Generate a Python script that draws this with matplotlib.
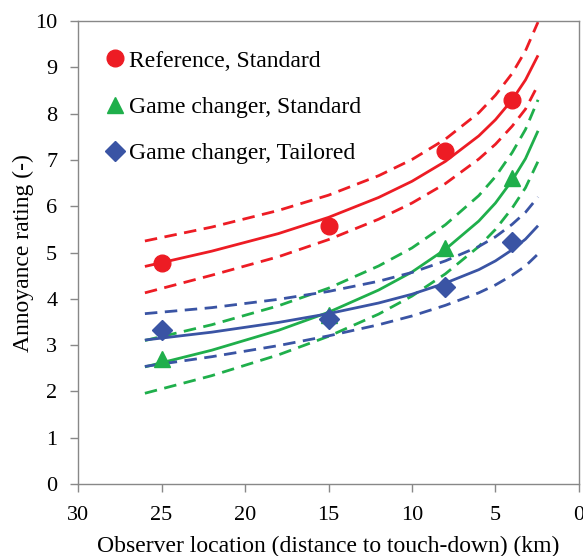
# Annoyance rating vs observer location, with fitted curves and bands
import numpy as np
import matplotlib.pyplot as plt

plt.rcParams['font.family'] = ['Liberation Serif', 'DejaVu Serif']

# measured points (distance in km)
dist_pts = [25, 15, 8, 4]
ref_std = [4.78, 5.57, 7.2, 8.3]
gc_std = [2.7, 3.65, 5.1, 6.62]
gc_tail = [3.32, 3.57, 4.26, 5.22]

# curves
dist_fit = [26, 22, 18, 15, 12, 10, 8, 6, 5, 4, 3.2, 2.45]
ref_fit = [4.70, 5.03, 5.41, 5.76, 6.19, 6.54, 6.97, 7.52, 7.87, 8.30, 8.73, 9.26]
ref_up = [5.25, 5.55, 5.91, 6.24, 6.66, 7.01, 7.45, 8.02, 8.40, 8.87, 9.36, 9.98]
ref_lo = [4.13, 4.51, 4.91, 5.28, 5.72, 6.07, 6.49, 7.02, 7.34, 7.73, 8.10, 8.62]
gc_std_fit = [2.53, 2.89, 3.32, 3.71, 4.19, 4.58, 5.07, 5.68, 6.07, 6.56, 7.03, 7.63]
gc_std_up = [3.10, 3.44, 3.85, 4.23, 4.71, 5.10, 5.60, 6.23, 6.64, 7.16, 7.66, 8.30]
gc_std_lo = [1.96, 2.34, 2.79, 3.19, 3.67, 4.06, 4.54, 5.13, 5.50, 5.96, 6.40, 6.97]
gc_tail_fit = [3.11, 3.28, 3.49, 3.68, 3.91, 4.10, 4.34, 4.63, 4.82, 5.06, 5.29, 5.58]
gc_tail_up = [3.68, 3.81, 3.99, 4.16, 4.38, 4.57, 4.82, 5.13, 5.34, 5.61, 5.87, 6.20]
gc_tail_lo = [2.54, 2.75, 2.99, 3.20, 3.44, 3.63, 3.86, 4.13, 4.30, 4.51, 4.71, 4.97]

red = '#ED1C24'
green = '#1FAF4B'
blue = '#3A54A4'

fig = plt.figure(figsize=(5.83, 5.56), dpi=100)
ax = fig.add_axes([0.134, 0.1295, 0.859, 0.8325])

dash = (4.5, 2.7)
series = [
    (ref_fit, ref_up, ref_lo, red),
    (gc_std_fit, gc_std_up, gc_std_lo, green),
    (gc_tail_fit, gc_tail_up, gc_tail_lo, blue),
]
for fit, up, lo, c in series:
    ax.plot(dist_fit, fit, color=c, lw=2.0, solid_capstyle='butt')
    ax.plot(dist_fit, up, color=c, lw=2.0, dashes=dash)
    ax.plot(dist_fit, lo, color=c, lw=2.0, dashes=dash)

ax.plot(dist_pts, ref_std, 'o', color=red, ms=12, ls='none', label='Reference, Standard')
ax.plot(dist_pts, gc_std, '^', color=green, ms=11, ls='none', label='Game changer, Standard')
ax.plot(dist_pts, gc_tail, 'D', color=blue, ms=10, ls='none', label='Game changer, Tailored')

ax.set_xlim(30, 0)
ax.set_ylim(0, 10)
ax.set_xticks([30, 25, 20, 15, 10, 5, 0])
ax.set_yticks(range(0, 11))
ax.tick_params(labelsize=16, direction='out', length=6, width=1, color='#888888')
ax.tick_params(axis='x', pad=10)
ax.tick_params(axis='y', pad=9)
for s in ax.spines.values():
    s.set_color('#888888')
    s.set_linewidth(1)

ax.set_xlabel('Observer location (distance to touch-down) (km)', fontsize=17, labelpad=8)
ax.set_ylabel('Annoyance rating (-)', fontsize=17, labelpad=1)

ax.legend(loc='upper left', bbox_to_anchor=(0.038, 0.958), frameon=False, fontsize=17,
          handlelength=0.7, handletextpad=0.25, labelspacing=1.05, borderaxespad=0)

fig.savefig('out.png', dpi=100)
